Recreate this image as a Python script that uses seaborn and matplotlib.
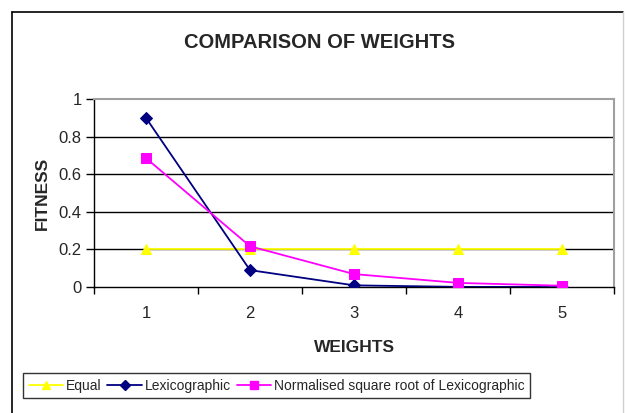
import matplotlib
matplotlib.use("Agg")
import matplotlib.pyplot as plt
from matplotlib.lines import Line2D
import seaborn as sns
import pandas as pd
import numpy as np

weights = [1, 2, 3, 4, 5]
equal = [0.2, 0.2, 0.2, 0.2, 0.2]
lexicographic = [0.9, 0.09, 0.009, 0.0009, 0.0001]
norm_sqrt_lex = [0.686, 0.217, 0.069, 0.022, 0.007]
series_names = ["Equal", "Lexicographic", "Normalised square root of Lexicographic"]
yticks = [0, 0.2, 0.4, 0.6, 0.8, 1]
ytick_labels = ["0", "0.2", "0.4", "0.6", "0.8", "1"]

sns.set_theme(style="white")
plt.rcParams["font.family"] = ["Liberation Sans", "DejaVu Sans"]

df = pd.DataFrame({
    "WEIGHTS": weights * 3,
    "FITNESS": equal + lexicographic + norm_sqrt_lex,
    "series": [series_names[0]] * 5 + [series_names[1]] * 5 + [series_names[2]] * 5,
})

palette = {series_names[0]: "#FFFF00", series_names[1]: "#000080", series_names[2]: "#FF00FF"}
markers = {series_names[0]: "^", series_names[1]: "D", series_names[2]: "s"}
msizes = {series_names[0]: 7, series_names[1]: 6, series_names[2]: 7}

fig = plt.figure(figsize=(6.25, 4.13), dpi=100)
ax = fig.add_axes([0.1504, 0.305, 0.832, 0.455])

# horizontal gridlines behind the data
for y in yticks[1:-1]:
    ax.axhline(y, color="black", lw=1.0, zorder=0)

for name in series_names:
    sub = df[df["series"] == name]
    sns.lineplot(data=sub, x="WEIGHTS", y="FITNESS", ax=ax, color=palette[name],
                 marker=markers[name], markersize=msizes[name], markeredgecolor=palette[name],
                 lw=1.3, legend=False, zorder=3)

ax.set_xlim(0.5, 5.5)
ax.set_ylim(0, 1)
ax.set_xticks(weights)
ax.set_xticklabels([str(w) for w in weights], fontsize=12)
ax.set_xticks(np.arange(0.5, 6.0, 1.0), minor=True)
ax.tick_params(axis="x", which="major", length=0, pad=14)
ax.tick_params(axis="x", which="minor", length=5, width=1, color="black", direction="out", bottom=True)
ax.set_yticks(yticks)
ax.set_yticklabels(ytick_labels, fontsize=12)
ax.tick_params(axis="y", length=6, width=1, color="black", direction="out", left=True, pad=3)

for side in ["left", "bottom"]:
    ax.spines[side].set_color("black")
    ax.spines[side].set_linewidth(1.0)
for side in ["top", "right"]:
    ax.spines[side].set_color("#A0A0A0")
    ax.spines[side].set_linewidth(1.5)

ax.set_xlabel("WEIGHTS", fontsize=12.5, fontweight="bold", labelpad=13)
ax.set_ylabel("FITNESS", fontsize=12.5, fontweight="bold", labelpad=6)
fig.text(0.512, 0.898, "COMPARISON OF WEIGHTS", ha="center", va="center",
         fontsize=14.5, fontweight="bold")

handles = [Line2D([0], [0], color=palette[n], marker=markers[n], markersize=msizes[n] - 1,
                  markeredgecolor=palette[n], lw=1.3) for n in series_names]
leg = fig.legend(handles, series_names, loc="center left", bbox_to_anchor=(0.037, 0.066),
                 ncol=3, frameon=True, fontsize=10, handlelength=2.5, handletextpad=0.2,
                 columnspacing=0.4, borderpad=0.4, fancybox=False, borderaxespad=0)
leg.get_frame().set_edgecolor("black")
leg.get_frame().set_linewidth(1.0)

# chart border
fig.add_artist(Line2D([12 / 625, 12 / 625], [0, 1 - 12 / 413], color="black", lw=1.2, transform=fig.transFigure))
fig.add_artist(Line2D([12 / 625, 623 / 625], [1 - 12 / 413, 1 - 12 / 413], color="black", lw=1.2, transform=fig.transFigure))
fig.add_artist(Line2D([623 / 625, 623 / 625], [0, 1 - 12 / 413], color="#D0D0D0", lw=1.0, transform=fig.transFigure))

fig.savefig("out.png", dpi=100)
